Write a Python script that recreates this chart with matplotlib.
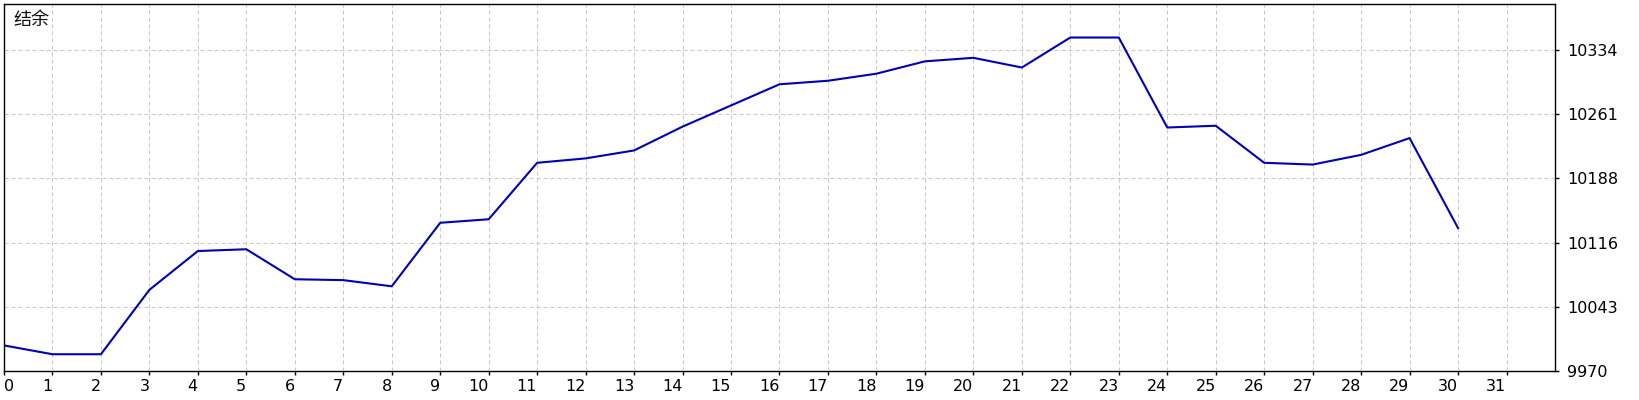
import numpy as np
import matplotlib
matplotlib.use('Agg')
import matplotlib.pyplot as plt

# balance after each deal
deals = list(range(31))
balance = [9999, 9989, 9989, 10062, 10106, 10108, 10074, 10073, 10066, 10138,
           10142, 10206, 10211, 10220, 10247, 10271, 10295, 10299, 10307, 10321,
           10325, 10314, 10348, 10348, 10246, 10248, 10206, 10204, 10215, 10234,
           10132]
xticks = list(range(32))
yticks = np.linspace(9970, 10334, 6)
ylabels = ['9970', '10043', '10116', '10188', '10261', '10334']
title = '结余'

plt.rcParams['font.family'] = ['DejaVu Sans', 'Noto Sans CJK SC']

fig = plt.figure(figsize=(16.4, 4.0), dpi=100)
ax = fig.add_axes([4 / 1640, 29 / 400, 1551 / 1640, 367 / 400])

ax.plot(deals, balance, color='#0000b4', lw=1.5)

ax.set_xlim(0, 32)
ax.set_ylim(9970, 10386)
ax.set_xticks(xticks)
ax.set_xticklabels([str(t) for t in xticks], fontsize=11.5)
for i, lab in enumerate(ax.get_xticklabels()):
    lab.set_ha('left' if i == 0 else 'right')
ax.set_yticks(yticks)
ax.set_yticklabels(ylabels, fontsize=11.5)
ax.yaxis.tick_right()
ax.tick_params(axis='both', length=3, width=1, color='black', pad=3)
ax.tick_params(axis='y', pad=6)

ax.grid(True, color='#c8c8c8', ls=(0, (4, 3)), lw=0.72)
for s in ax.spines.values():
    s.set_color('black')
    s.set_linewidth(1)

ax.text(0.006, 0.98, title, transform=ax.transAxes, ha='left', va='top',
        fontsize=13, family=['Noto Sans CJK SC', 'DejaVu Sans'], color='#111111')

fig.savefig('out.png', dpi=100)
